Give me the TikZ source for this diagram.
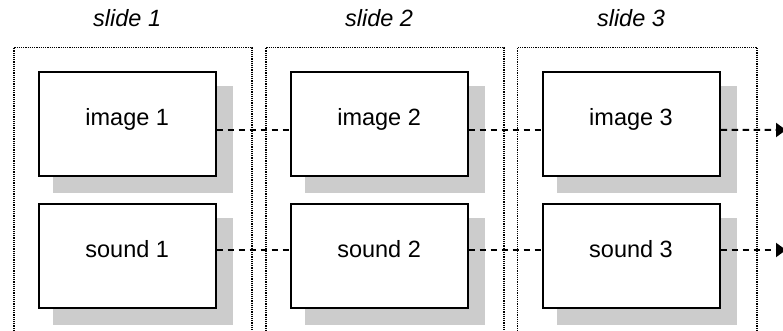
\documentclass[tikz,border=0pt]{standalone}
\usepackage{fontspec}
\setmainfont{Liberation Sans}
\usetikzlibrary{arrows.meta,backgrounds}
\tikzset{
  box/.style={draw=black, line width=2pt, fill=white, inner sep=0pt,
    minimum width=177pt, text height=54.3pt, text depth=50.2pt,
    font=\fontsize{23.5}{28}\selectfont},
  frame/.style={line width=1.2pt, dash pattern=on 1.2pt off 1pt},
  link/.style={line width=2pt, dash pattern=on 6.5pt off 4.5pt},
  shadowfill/.style={fill=black!20},
  slidelabel/.style={anchor=base, font=\fontsize{23.5}{28}\selectfont\itshape},
  endtip/.style={-{Triangle[length=10pt,width=14pt]}}
}
\begin{document}
\begin{tikzpicture}[x=1pt,y=-1pt]
\useasboundingbox (0,0) rectangle (783,331);
% frames
\draw[frame] (14,331) |- (252,47.5) -- (252,331);
\draw[frame] (266,331) |- (504,47.5) -- (504,331);
\draw[frame] (517.5,331) |- (757,47.5) -- (757,331);
% labels and boxes
\foreach \i in {1,2,3}{
  \node[slidelabel] (s\i) at ({127.2+251.9*(\i-1)},26.7) {slide \i};
  \node[box] (img\i) at ({127.2+251.9*(\i-1)},123.95) {image \i};
  \node[box] (snd\i) at ({127.2+251.9*(\i-1)},255.75) {sound \i};
}
% shadows
\begin{scope}[on background layer]
\foreach \i in {1,2,3}{
  \fill[shadowfill] ([shift={(15,15)}]img\i.north west) rectangle ([shift={(16,16)}]img\i.south east);
  \fill[shadowfill] ([shift={(15,15)}]snd\i.north west) rectangle ([shift={(16,16)}]snd\i.south east);
}
\end{scope}
% connectors
\draw[link] ([yshift=-6pt]img1.east) -- ([yshift=-6pt]img2.west);
\draw[link] ([yshift=-6pt]img2.east) -- ([yshift=-6pt]img3.west);
\coordinate (endA) at (786,130);
\draw[link,endtip] ([yshift=-6pt]img3.east) -- (endA);
\draw[link] ([yshift=5.75pt]snd1.east) -- ([yshift=5.75pt]snd2.west);
\draw[link] ([yshift=5.75pt]snd2.east) -- ([yshift=5.75pt]snd3.west);
\coordinate (endB) at (786,250);
\draw[link,endtip] ([yshift=5.75pt]snd3.east) -- (endB);
\end{tikzpicture}
\end{document}
